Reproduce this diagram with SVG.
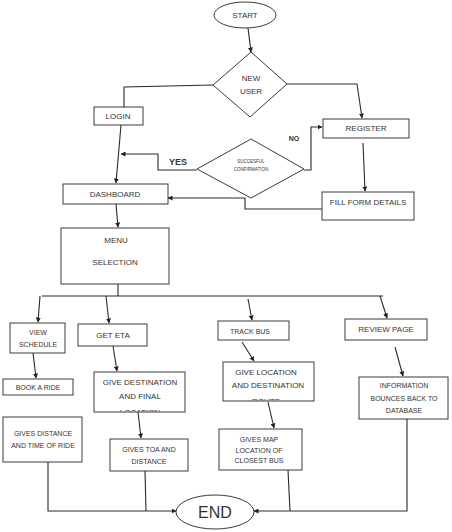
<svg xmlns="http://www.w3.org/2000/svg" width="452" height="532" viewBox="0 0 452 532">
<style>
.s{fill:#fff;stroke:#3a3a3a;stroke-width:1}
.t{font-family:"Liberation Sans",Arial,sans-serif;font-size:8px;fill:#333;text-anchor:middle}
.m{font-size:7px}
.c{fill:none;stroke:#2a2a2a;stroke-width:1.1}
.b{font-weight:bold}
</style>
<defs>
<marker id="a" viewBox="0 0 10 10" refX="9" refY="5" markerWidth="5" markerHeight="5" markerUnits="userSpaceOnUse" orient="auto">
<path d="M0,0L10,5L0,10z" fill="#222"/>
</marker>
<clipPath id="k1"><rect x="94" y="372" width="91" height="39.5"/></clipPath>
<clipPath id="k2"><rect x="223" y="362" width="91" height="38.5"/></clipPath>
</defs>
<rect width="452" height="532" fill="#fff"/>
<g id="connectors">
<path class="c" d="M248,28L251,52" marker-end="url(#a)"/>
<path class="c" d="M213,85L124,87L124,107"/>
<path class="c" d="M287,84L357,84L362,118" marker-end="url(#a)"/>
<path class="c" d="M121,125L116,183" marker-end="url(#a)"/>
<path class="c" d="M197,170L158,170L158,154L121,154" marker-end="url(#a)"/>
<path class="c" d="M304,170L311,170L311,127L322,127" marker-end="url(#a)"/>
<path class="c" d="M363,143L365,191" marker-end="url(#a)"/>
<path class="c" d="M322,209L245,209L245,198L168,198" marker-end="url(#a)"/>
<path class="c" d="M116,204L118,227" marker-end="url(#a)"/>
<path class="c" d="M118,284L118,296M42,296L383,296"/>
<path class="c" d="M40,296L38,322" marker-end="url(#a)"/>
<path class="c" d="M106,296L109,323" marker-end="url(#a)"/>
<path class="c" d="M248,299L252,320" marker-end="url(#a)"/>
<path class="c" d="M380,296L387,318" marker-end="url(#a)"/>
<path class="c" d="M33,353L36,378" marker-end="url(#a)"/>
<path class="c" d="M113,346L117,371" marker-end="url(#a)"/>
<path class="c" d="M242,342L254,361" marker-end="url(#a)"/>
<path class="c" d="M395,347L403,376" marker-end="url(#a)"/>
<path class="c" d="M138,412L141,438" marker-end="url(#a)"/>
<path class="c" d="M268,402L274,428" marker-end="url(#a)"/>
<path class="c" d="M48,462L48,511L176,511" marker-end="url(#a)"/>
<path class="c" d="M145,471L146,511"/>
<path class="c" d="M407,419L407,511L254,511" marker-end="url(#a)"/>
<path class="c" d="M288,470L290,511"/>
<text class="t b" x="178" y="165" style="font-size:9px">YES</text>
<text class="t b" x="294" y="141" style="font-size:7px">NO</text>
</g>
<g id="start"><ellipse class="s" cx="245" cy="15" rx="31" ry="13"/><text class="t" x="245" y="18">START</text></g>
<g id="new-user"><path class="s" d="M251,52L287,84L250,117L213,85z"/><text class="t" x="251" y="81">NEW</text><text class="t" x="251" y="94">USER</text></g>
<g id="login"><rect class="s" x="94" y="107" width="49" height="18"/><text class="t" x="118" y="119">LOGIN</text></g>
<g id="register"><rect class="s" x="323" y="119" width="86" height="19"/><text class="t" x="366" y="131">REGISTER</text></g>
<g id="confirm"><path class="s" d="M251,139L304,169L251,198L197,169z"/><text class="t" x="251" y="163" style="font-size:4.5px">SUCCESFUL</text><text class="t" x="251" y="171" style="font-size:4.5px">CONFIRMATION</text></g>
<g id="dashboard"><rect class="s" x="63" y="184" width="105" height="20"/><text class="t" x="115" y="197">DASHBOARD</text></g>
<g id="fill-form"><rect class="s" x="322" y="192" width="92" height="28"/><text class="t" x="368" y="205">FILL FORM DETAILS</text></g>
<g id="menu"><rect class="s" x="61" y="228" width="108" height="56"/><text class="t" x="116" y="243">MENU</text><text class="t" x="115" y="265">SELECTION</text></g>
<g id="view-schedule"><rect class="s" x="10" y="323" width="55" height="30"/><text class="t m" x="38" y="335">VIEW</text><text class="t m" x="38" y="347">SCHEDULE</text></g>
<g id="get-eta"><rect class="s" x="78" y="324" width="69" height="22"/><text class="t" x="113" y="338">GET ETA</text></g>
<g id="track-bus"><rect class="s" x="218" y="321" width="71" height="19"/><text class="t m" x="250" y="334">TRACK BUS</text></g>
<g id="review-page"><rect class="s" x="345" y="319" width="82" height="21"/><text class="t" x="386" y="332">REVIEW PAGE</text></g>
<g id="book-ride"><rect class="s" x="3" y="379" width="70" height="16"/><text class="t m" x="38" y="390">BOOK A RIDE</text></g>
<g id="give-destination"><rect class="s" x="94" y="372" width="91" height="40"/><g clip-path="url(#k1)"><text class="t" x="140" y="385">GIVE DESTINATION</text><text class="t" x="140" y="399">AND FINAL</text><text class="t" x="140" y="414.5">LOCATION</text></g></g>
<g id="give-location"><rect class="s" x="223" y="362" width="91" height="39"/><g clip-path="url(#k2)"><text class="t" x="266" y="375">GIVE LOCATION</text><text class="t" x="268" y="388">AND DESTINATION</text><text class="t" x="266" y="403.5">ROUTE</text></g></g>
<g id="information"><rect class="s" x="359" y="377" width="89" height="42"/><text class="t m" x="404" y="388">INFORMATION</text><text class="t m" x="404" y="401">BOUNCES BACK TO</text><text class="t m" x="404" y="413">DATABASE</text></g>
<g id="gives-distance"><rect class="s" x="3" y="417" width="79" height="45"/><text class="t m" x="43" y="436">GIVES DISTANCE</text><text class="t m" x="43" y="448">AND TIME OF RIDE</text></g>
<g id="gives-toa"><rect class="s" x="110" y="439" width="78" height="32"/><text class="t m" x="149" y="452">GIVES TOA AND</text><text class="t m" x="149" y="464">DISTANCE</text></g>
<g id="gives-map"><rect class="s" x="219" y="429" width="83" height="41"/><text class="t m" x="259" y="442">GIVES MAP</text><text class="t m" x="259" y="453">LOCATION OF</text><text class="t m" x="259" y="463">CLOSEST BUS</text></g>
<g id="end"><ellipse class="s" cx="215" cy="512" rx="39" ry="17"/><text class="t" x="215" y="518" style="font-size:16px">END</text></g>
</svg>
